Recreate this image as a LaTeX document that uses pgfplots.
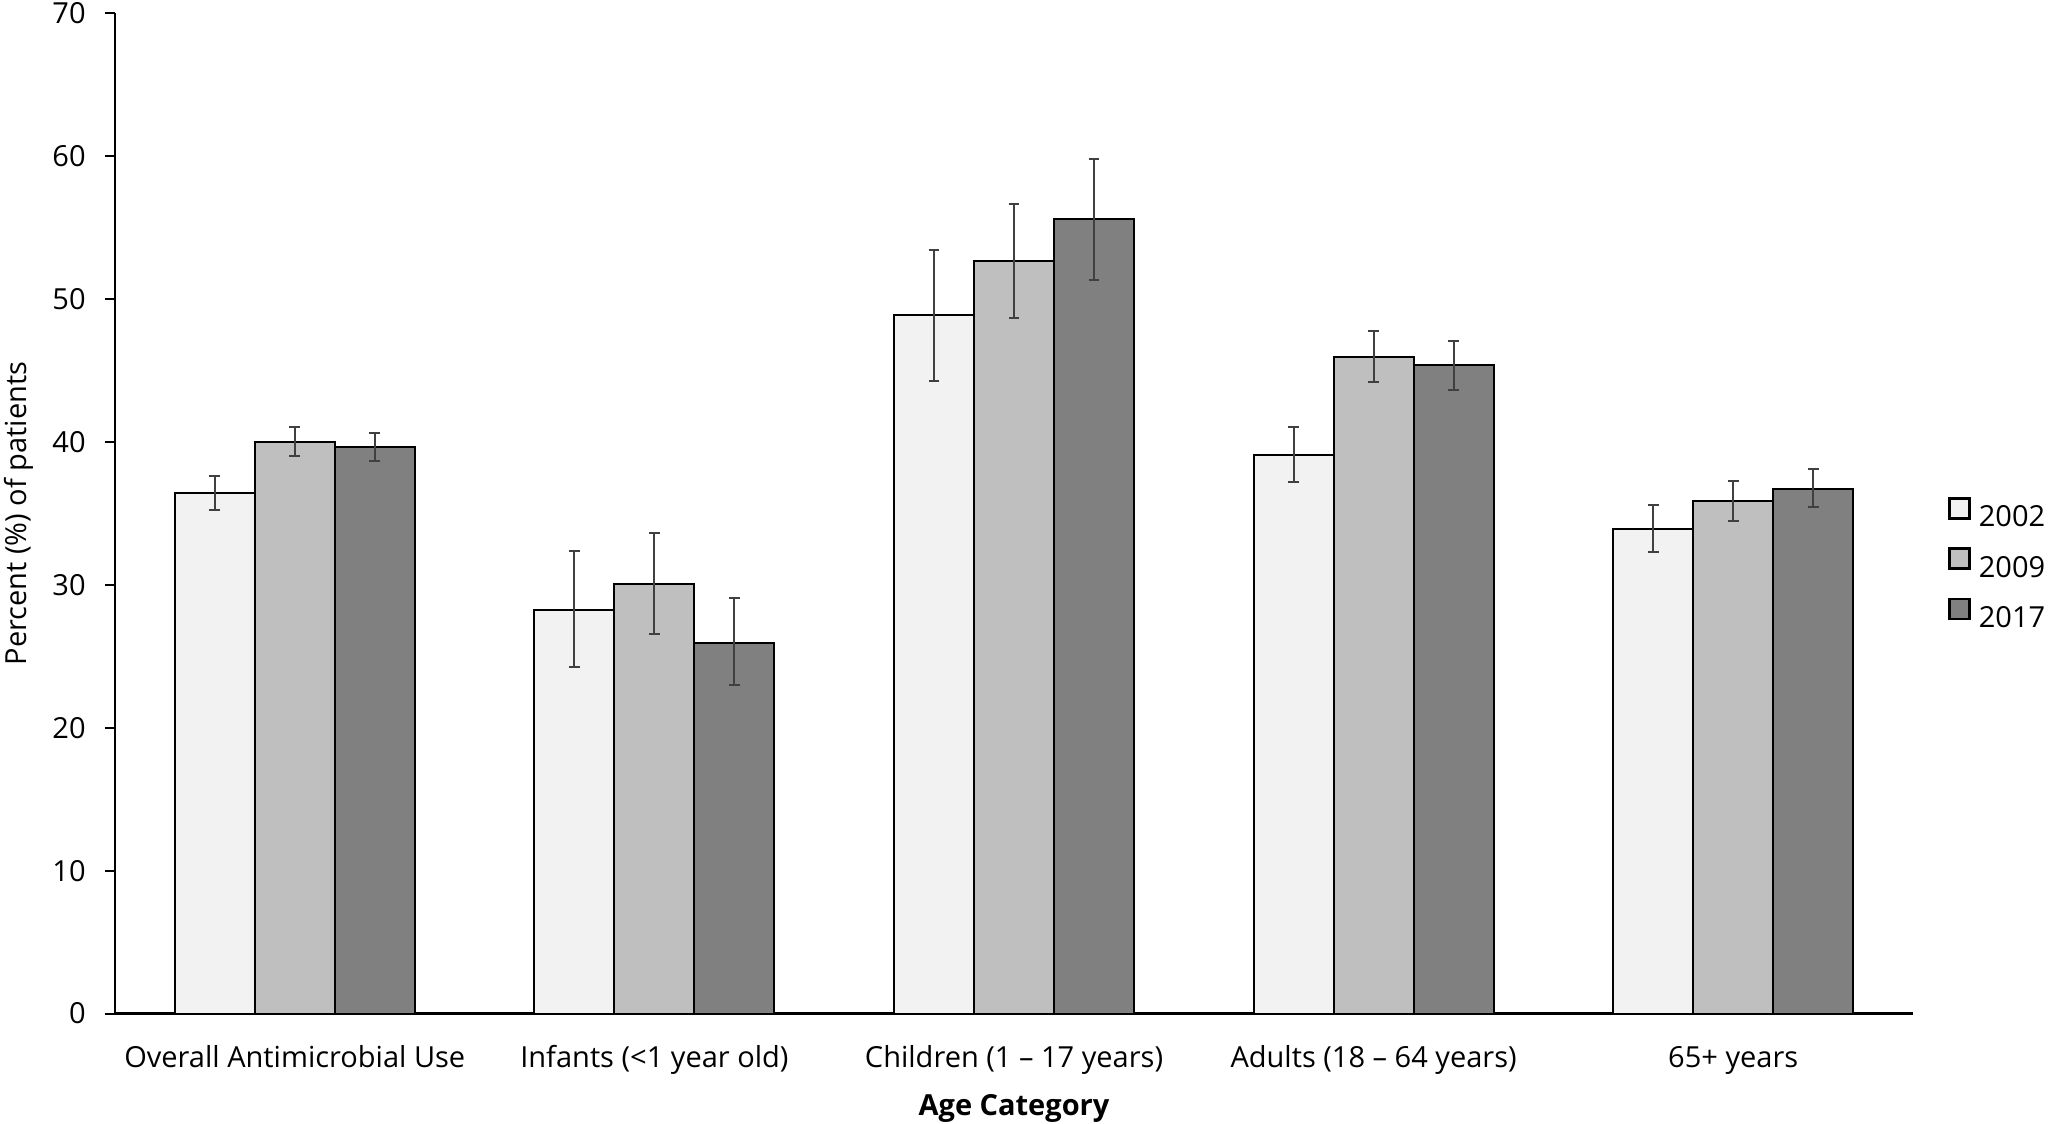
\documentclass[border=0pt]{standalone}
\usepackage{fontspec}
\setmainfont{Open Sans}
\usepackage{pgfplots}
\usepackage{pgfplotstable}
\pgfplotsset{compat=1.18}

% columns: category index, value, error up, error down
\pgfplotstableread{
x y ep em
0 36.45 1.19 1.19
1 28.22 4.18 3.95
2 48.85 4.56 4.56
3 39.12 1.96 1.93
4 33.91 1.67 1.60
}\tA
\pgfplotstableread{
x y ep em
0 40.00 1.04 0.95
1 30.09 3.56 3.54
2 52.64 4.02 3.98
3 45.96 1.80 1.77
4 35.84 1.44 1.38
}\tB
\pgfplotstableread{
x y ep em
0 39.63 1.00 0.93
1 25.94 3.12 2.98
2 55.60 4.18 4.27
3 45.38 1.71 1.73
4 36.74 1.35 1.29
}\tC

\definecolor{cA}{HTML}{F2F2F2}
\definecolor{cB}{HTML}{BFBFBF}
\definecolor{cC}{HTML}{808080}
\definecolor{errc}{HTML}{404040}

\begin{document}
\fontsize{14.5}{17}\selectfont
\begin{tikzpicture}
\path[use as bounding box] (-57.5pt,-54.7pt) rectangle (966.5pt,506.8pt);
\begin{axis}[
    at={(0,0)}, anchor=south west,
    scale only axis,
    width=899pt, height=500.2pt,
    ybar=0pt, bar width=40pt,
    xmin=-0.5, xmax=4.5,
    ymin=0, ymax=70,
    ytick={0,10,...,70},
    xtick=data,
    xticklabels={Overall Antimicrobial Use, Infants (<1 year old), Children (1 -- 17 years), Adults (18 -- 64 years), 65+ years},
    axis x line*=bottom, axis y line*=left,
    axis line style={-, black, line width=1pt},
    x axis line style={line width=1.4pt},
    major x tick style={draw=none},
    major y tick style={black, line width=1pt},
    tick align=outside, major tick length=5pt,
    /pgf/number format/assume math mode=true,
    xticklabel style={anchor=base, inner sep=0pt, yshift=-21.7pt},
    yticklabel style={anchor=east, inner sep=0pt, xshift=-9.5pt},
    ylabel={Percent (\%) of patients},
    xlabel={\bfseries Age Category},
    every axis y label/.style={at={([xshift=-55.5pt]axis description cs:0,0.5)}, rotate=90, anchor=north, inner sep=0pt},
    every axis x label/.style={at={([yshift=-47.2pt]axis description cs:0.5,0)}, anchor=center, inner sep=0pt},
    legend style={at={(1.0195,0.449)}, anchor=west, draw=none, fill=none, inner sep=0pt,
        row sep=8.15pt, column sep=4pt, nodes={inner sep=0pt, anchor=west}},
    legend cell align=left,
    legend image code/.code={\draw[#1, line width=1.2pt] (0pt,0pt) rectangle (10pt,10pt);},
    every axis plot/.append style={draw=black, line width=1pt},
    error bars/error bar style={errc, line width=1pt},
    error bars/error mark options={rotate=90, errc, mark size=2.7pt, line width=1pt},
]
\addplot[fill=cA, error bars/.cd, y dir=both, y explicit]
    table[x=x, y=y, y error plus=ep, y error minus=em] {\tA};
\addplot[fill=cB, error bars/.cd, y dir=both, y explicit]
    table[x=x, y=y, y error plus=ep, y error minus=em] {\tB};
\addplot[fill=cC, error bars/.cd, y dir=both, y explicit]
    table[x=x, y=y, y error plus=ep, y error minus=em] {\tC};
\legend{2002, 2009, 2017}
\end{axis}
\end{tikzpicture}
\end{document}
